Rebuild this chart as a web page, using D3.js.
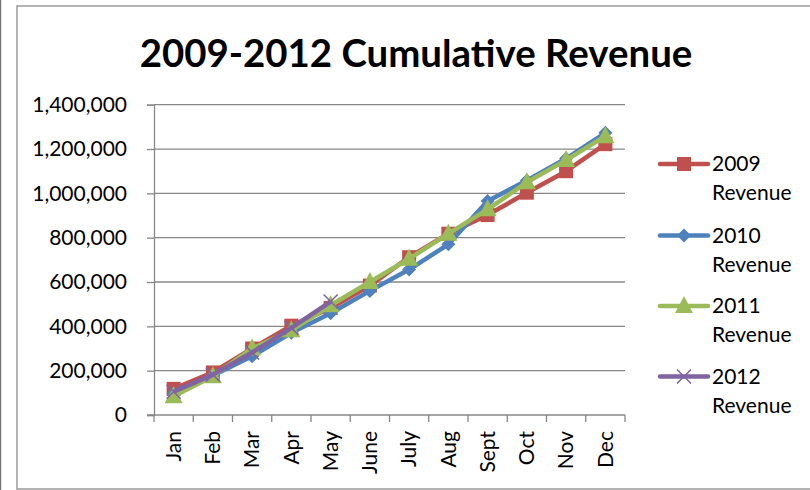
<!DOCTYPE html>
<html>
<head>
<meta charset="utf-8">
<script src="https://cdn.jsdelivr.net/npm/d3@7"></script>
<style>
    body { margin: 0; background: #fff; }
    svg { display: block; font-family: Lato, 'Open Sans', sans-serif; }
</style>
</head>
<body>
<svg id="chart" width="810" height="490"></svg>
<script>
// Data
const months = ['Jan', 'Feb', 'Mar', 'Apr', 'May', 'June', 'July', 'Aug', 'Sept', 'Oct', 'Nov', 'Dec'];
const rev2009 = [118000, 192000, 300000, 403000, 483000, 584000, 712000, 818000, 902000, 1003000, 1100000, 1222000];
const rev2010 = [97000, 178000, 265000, 371000, 459000, 560000, 656000, 770000, 965000, 1058000, 1157000, 1273000];
const rev2011 = [85000, 175000, 300000, 382000, 495000, 600000, 705000, 818000, 928000, 1050000, 1150000, 1258000];
const rev2012 = [105000, 182000, 282000, 393000, 512000];
const yTicks = [0, 200000, 400000, 600000, 800000, 1000000, 1200000, 1400000];

const series = [
    { name: '2009', values: rev2009, color: '#C0504D', marker: 'square' },
    { name: '2010', values: rev2010, color: '#4F81BD', marker: 'diamond' },
    { name: '2011', values: rev2011, color: '#9BBB59', marker: 'triangle' },
    { name: '2012', values: rev2012, color: '#8064A2', marker: 'x' }
];

const svg = d3.select('#chart');
const gray = '#878787';
const labelSize = '21px';

// Outer frame
svg.append('line').attr('x1', 0.5).attr('x2', 0.5).attr('y1', 0).attr('y2', 490)
    .attr('stroke', '#777').attr('stroke-width', 1.5);
svg.append('rect').attr('x', 17).attr('y', 6).attr('width', 810).attr('height', 483)
    .attr('fill', '#fff').attr('stroke', '#9a9a9a').attr('stroke-width', 1.5);

// Title
const title = svg.append('text')
    .attr('x', 416).attr('y', 67)
    .attr('text-anchor', 'middle')
    .style('font-size', '36px').style('font-weight', 'bold')
    .text('2009-2012 Cumulative Revenue');
const tw = title.node().getComputedTextLength();
title.style('font-size', (36 * 553 / tw).toFixed(1) + 'px');

// Scales
const x = d3.scaleBand().domain(months).range([154, 625]);
const y = d3.scaleLinear().domain([0, 1400000]).range([415, 104.7]);

// Gridlines
svg.append('g').selectAll('line')
    .data(yTicks.slice(1))
    .enter().append('line')
    .attr('x1', 154).attr('x2', 625)
    .attr('y1', d => y(d)).attr('y2', d => y(d))
    .attr('stroke', gray).attr('stroke-width', 1.3);

// Y axis
const yAxis = svg.append('g')
    .attr('transform', 'translate(154,0)')
    .call(d3.axisLeft(y).tickValues(yTicks).tickSize(7).tickPadding(20)
        .tickFormat(d3.format(',')));
yAxis.select('.domain').attr('stroke', gray).attr('stroke-width', 1.3);
yAxis.selectAll('.tick line').attr('stroke', gray).attr('stroke-width', 1.3);
yAxis.selectAll('.tick text')
    .style('font-family', 'Lato, sans-serif').style('font-size', labelSize).attr('fill', '#000');

// X axis (ticks at category boundaries)
const xAxis = svg.append('g').attr('transform', 'translate(0,415)');
xAxis.append('line').attr('x1', 147).attr('x2', 625).attr('y1', 0).attr('y2', 0)
    .attr('stroke', gray).attr('stroke-width', 1.3);
xAxis.selectAll('line.tick')
    .data(months.concat(['end']))
    .enter().append('line')
    .attr('class', 'tick')
    .attr('x1', (d, i) => i < months.length ? x(d) : x.range()[1])
    .attr('x2', (d, i) => i < months.length ? x(d) : x.range()[1])
    .attr('y1', 0).attr('y2', 7)
    .attr('stroke', gray).attr('stroke-width', 1.3);
xAxis.selectAll('text')
    .data(months)
    .enter().append('text')
    .attr('transform', d => `translate(${x(d) + x.bandwidth() / 2},16) rotate(-90)`)
    .attr('dy', '0.35em')
    .attr('text-anchor', 'end')
    .style('font-size', labelSize)
    .text(d => d);

// Marker drawing helper
function drawMarker(g, type, color) {
    if (type === 'square') {
        g.append('rect').attr('x', -7).attr('y', -7).attr('width', 14).attr('height', 14)
            .attr('fill', color);
    } else if (type === 'diamond') {
        g.append('path').attr('d', 'M0,-7L7,0L0,7L-7,0Z').attr('fill', color);
    } else if (type === 'triangle') {
        g.append('path').attr('d', 'M0,-10L9,7L-9,7Z').attr('fill', color);
    } else {
        g.append('path').attr('d', 'M-7,-7L7,7M-7,7L7,-7')
            .attr('stroke', color).attr('stroke-width', 1.6).attr('fill', 'none');
    }
}

const line = d3.line()
    .x((d, i) => x(months[i]) + x.bandwidth() / 2)
    .y(d => y(d));

// Series: lines then markers, in series order
series.forEach(s => {
    const g = svg.append('g').attr('class', 'series');
    g.append('path')
        .attr('d', line(s.values))
        .attr('fill', 'none')
        .attr('stroke', s.color)
        .attr('stroke-width', 4.5)
        .attr('stroke-linejoin', 'round');
    s.values.forEach((v, i) => {
        const m = g.append('g')
            .attr('transform', `translate(${x(months[i]) + x.bandwidth() / 2},${y(v)})`);
        drawMarker(m, s.marker, s.color);
    });
});

// Legend
const legendY = [164, 235.5, 306, 376.5];
series.forEach((s, i) => {
    const g = svg.append('g').attr('transform', `translate(0,${legendY[i]})`);
    g.append('line').attr('x1', 660).attr('x2', 708).attr('y1', 0).attr('y2', 0)
        .attr('stroke', s.color).attr('stroke-width', 4.5).attr('stroke-linecap', 'round');
    const m = g.append('g').attr('transform', 'translate(684,0)');
    drawMarker(m, s.marker, s.color);
    g.append('text').attr('x', 712).attr('y', 7)
        .style('font-size', labelSize).text(s.name);
    g.append('text').attr('x', 712).attr('y', 36)
        .style('font-size', labelSize).text('Revenue');
});
</script>
</body>
</html>
